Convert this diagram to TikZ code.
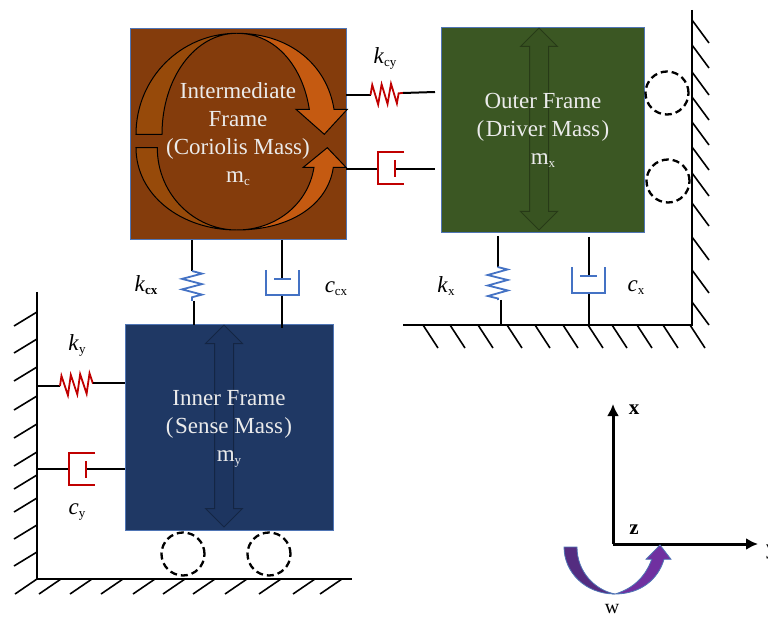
\documentclass[tikz,border=0pt]{standalone}
\usepackage{fontspec}
\setmainfont{Liberation Serif}
\usetikzlibrary{arrows.meta,decorations.pathmorphing,shapes.arrows}
\definecolor{coriolis}{HTML}{843C0C}
\definecolor{coriolisback}{HTML}{974A0A}
\definecolor{coriolisfront}{HTML}{C55A11}
\definecolor{driver}{HTML}{3B5723}
\definecolor{sense}{HTML}{1F3864}
\definecolor{edgeblue}{HTML}{4F75B5}
\definecolor{springblue}{HTML}{4472C4}
\definecolor{springred}{HTML}{C00000}
\definecolor{omegaback}{HTML}{542C80}
\definecolor{omegafront}{HTML}{7030A0}
\newcommand{\lowsub}[1]{\raisebox{-3pt}{\fontsize{13}{13}\selectfont #1}}
\begin{document}
\begin{tikzpicture}[
  x=1pt, y=-1pt,
  frame/.style={rectangle, draw=edgeblue, line width=1pt, inner sep=0pt},
  frametext/.style={align=center, text=white!92!black, font=\fontsize{23}{28}\selectfont},
  label/.style={font=\fontsize{23}{26}\selectfont},
  wire/.style={line width=2pt},
  ground/.style={line width=2.2pt},
  hatch/.style={line width=1.6pt},
  redspring/.style={springred, line width=1.8pt, decorate, decoration={zigzag, segment length=9.4, amplitude=10}},
  bluespring/.style={springblue, line width=1.8pt, decorate, decoration={zigzag, segment length=10.5, amplitude=10}},
  reddamper/.style={springred, line width=2pt},
  bluedamper/.style={springblue, line width=2pt},
  roller/.style={circle, draw, line width=2.3pt, dash pattern=on 7pt off 4pt, minimum size=43pt, inner sep=0pt},
  travel/.style={double arrow, double arrow head extend=9pt, minimum width=36pt, inner ysep=9pt, inner xsep=0pt, rotate=90, fill=black, fill opacity=0.04, draw=black, draw opacity=0.3, line width=1pt},
  spin/.style={draw=black, line width=1pt, line join=miter},
  omega/.style={draw=edgeblue, line width=0.8pt},
  axis/.style={-{Latex[length=12pt, width=12pt]}, line width=3pt}
]
  \useasboundingbox (0,0) rectangle (768,617);

  % Masses
  \node[frame, fill=coriolis, minimum width=216pt, minimum height=211pt] (intermediate) at (238,134.5) {};
  \node[frame, fill=driver, minimum width=203pt, minimum height=205pt] (outer) at (543,130.5) {};
  \node[frame, fill=sense, minimum width=208pt, minimum height=205pt] (inner) at (229,427.5) {};

  % Rotation arrows of the intermediate frame
  \draw[spin, fill=coriolisback] (136,134.3) .. controls (136,78) and (181,33.3) .. (236.7,33.3)
    .. controls (195,33.3) and (162,78) .. (162,134.3) -- cycle;
  \draw[spin, fill=coriolisfront] (236.7,33.3) .. controls (290,33.3) and (327,65) .. (334,109.3)
    -- (347.3,109.3) -- (324.3,134.3) -- (296,109.3) -- (309.3,109.3)
    .. controls (303,68) and (277,33.3) .. (236.7,33.3) -- cycle;
  \draw[spin, fill=coriolisback] (136,147.7) .. controls (136,195) and (181,230) .. (236.7,230)
    .. controls (195,230) and (157.3,195) .. (157.3,147.7) -- cycle;
  \draw[spin, fill=coriolisfront] (236.7,230) .. controls (290,230) and (328,205) .. (333.3,167.3)
    -- (346,167.3) -- (327.3,147.7) -- (303.3,167.3) -- (314,167.3)
    .. controls (308,205) and (275,230) .. (236.7,230) -- cycle;

  % Travel arrows
  \node[travel, minimum height=202pt] (outerTravel) at (539,129) {};
  \node[travel, minimum height=202pt] (innerTravel) at (224,426) {};

  % Frame texts
  \node[frametext] (intermediateText) at (intermediate.center) {Intermediate\\Frame\\(Coriolis Mass)\\m\lowsub{c}};
  \node[frametext] (outerText) at (543,130.5) {Outer Frame\\(\kern1.5pt Driver Mass\kern1.5pt)\\m\lowsub{x}};
  \node[frametext] (innerText) at (229,429) {Inner Frame\\(\kern1.5pt Sense Mass\kern1.5pt)\\m\lowsub{y}};

  % Rollers
  \node[roller] (rollerA) at (667,93) {};
  \node[roller] (rollerB) at (668,181) {};
  \node[roller] (rollerC) at (183,554) {};
  \node[roller] (rollerD) at (269,554) {};

  % Outer ground
  \coordinate (outerTop) at (692,10);
  \coordinate (outerCorner) at (692,325);
  \coordinate (outerEnd) at (403,325);
  \draw[ground] (outerTop) -- (outerCorner) -- (outerEnd);
  \foreach \y in {20,45,72,97,122,147,173,203,237,270,302}
    \draw[hatch] (692,\y) -- ++(17,23);
  \foreach \x in {423,450,478,507,535,563,588,612,637,663,690}
    \draw[hatch] (\x,325) -- ++(15,23);

  % Inner ground
  \coordinate (innerTop) at (37,292);
  \coordinate (innerCorner) at (37,579);
  \coordinate (innerEnd) at (352,579);
  \draw[ground] (innerTop) -- (innerCorner) -- (innerEnd);
  \foreach \y in {312,339,367,396,424,452,475,498,525,552}
    \draw[hatch] (37,\y) -- ++(-23,14);
  \foreach \x in {37,61,92,123,155,185,215,247,281,315,342}
    \draw[hatch] (\x,579) -- ++(-22,15);

  % Spring k_cy
  \coordinate (kcyA) at (346,95);
  \coordinate (kcyB) at (370.5,95);
  \coordinate (kcyC) at (403,93);
  \coordinate (kcyD) at (435,92);
  \draw[wire] (kcyA) -- (kcyB);
  \draw[redspring] (kcyB) -- (kcyC);
  \draw[wire] (kcyC) -- (kcyD);
  \node[label] (kcyLabel) at (385,58) {\textit{k}\lowsub{cy}};

  % Damper c_cy
  \coordinate (ccyA) at (346,168.7);
  \coordinate (ccyB) at (378,168.7);
  \coordinate (ccyC) at (395,168.7);
  \coordinate (ccyD) at (435,168.7);
  \draw[wire] (ccyA) -- (ccyB);
  \draw[wire] (ccyC) -- (ccyD);
  \draw[reddamper] (404,152) -| (ccyB) |- (404,184);
  \draw[reddamper] (395,160) -- (395,177);

  % Spring k_x
  \coordinate (kxA) at (497.5,236);
  \coordinate (kxB) at (497.5,267);
  \coordinate (kxC) at (498,300);
  \coordinate (kxD) at (501,325);
  \draw[wire] (kxA) -- (kxB);
  \draw[bluespring] (kxB) -- (kxC);
  \draw[wire] (501,300) -- (kxD);
  \node[label] (kxLabel) at (446,286) {\textit{k}\lowsub{x}};

  % Damper c_x
  \coordinate (cxA) at (589,237);
  \coordinate (cxB) at (589,276);
  \coordinate (cxC) at (589,293);
  \coordinate (cxD) at (589,325);
  \draw[wire] (cxA) -- (cxB);
  \draw[wire] (cxC) -- (cxD);
  \draw[bluedamper] (572,267) |- (cxC) -| (604.5,267);
  \draw[bluedamper] (580,276) -- (597,276);
  \node[label] (cxLabel) at (636,288) {\textit{c}\lowsub{x}};

  % Spring k_cx
  \coordinate (kcxA) at (192,240);
  \coordinate (kcxB) at (192,271);
  \coordinate (kcxC) at (192,301);
  \coordinate (kcxD) at (194,325);
  \draw[wire] (kcxA) -- (kcxB);
  \draw[bluespring] (kcxB) -- (kcxC);
  \draw[wire] (194,301) -- (kcxD);
  \node[label] (kcxLabel) at (146,285) {\textit{k}\lowsub{\textbf{cx}}};

  % Damper c_cx
  \coordinate (ccxA) at (282,240);
  \coordinate (ccxB) at (282,279);
  \coordinate (ccxC) at (282,295);
  \coordinate (ccxD) at (282,328);
  \draw[wire] (ccxA) -- (ccxB);
  \draw[wire] (ccxC) -- (ccxD);
  \draw[bluedamper] (266,270) |- (ccxC) -| (299,270);
  \draw[bluedamper] (274,279) -- (291,279);
  \node[label] (ccxLabel) at (336,289) {\textit{c}\lowsub{cx}};

  % Spring k_y
  \coordinate (kyA) at (37,386);
  \coordinate (kyB) at (60,386);
  \coordinate (kyC) at (93,383);
  \coordinate (kyD) at (125,383);
  \draw[wire] (kyA) -- (kyB);
  \draw[redspring] (kyB) -- (kyC);
  \draw[wire] (kyC) -- (kyD);
  \node[label] (kyLabel) at (77,345) {\textit{k}\lowsub{y}};

  % Damper c_y
  \coordinate (cyA) at (36,469);
  \coordinate (cyB) at (69,469);
  \coordinate (cyC) at (86,469);
  \coordinate (cyD) at (125,469);
  \draw[wire] (cyA) -- (cyB);
  \draw[wire] (cyC) -- (cyD);
  \draw[reddamper] (95,453) -| (cyB) |- (95,485);
  \draw[reddamper] (86,461) -- (86,478);
  \node[label] (cyLabel) at (77,512) {\textit{c}\lowsub{y}};

  % Axes
  \coordinate (origin) at (613,544);
  \coordinate (axisX) at (613,404);
  \coordinate (axisY) at (758,544);
  \draw[axis] (origin) -- (axisX);
  \draw[axis] (origin) -- (axisY);
  \node[label, font=\fontsize{21}{24}\selectfont\bfseries] (xLabel) at (634,410) {x};
  \node[label, font=\fontsize{21}{24}\selectfont\bfseries] (zLabel) at (634,530) {z};
  \node[label, font=\fontsize{21}{24}\selectfont\bfseries, anchor=west, inner xsep=0pt] (yLabel) at (766,552) {y};

  % Rotation arrow w
  \draw[omega, fill=omegaback] (564,547) .. controls (564,572) and (585,594) .. (615,594)
    .. controls (595,590) and (577,572) .. (577,547) -- cycle;
  \draw[omega, fill=omegafront] (615,594) .. controls (640,594) and (658,580) .. (664,559.3)
    -- (671,559.3) -- (660,545) -- (646,559.3) -- (651.7,559.3)
    .. controls (646,575) and (635,588) .. (615,594) -- cycle;
  \node[label, font=\fontsize{20}{24}\selectfont] (omegaLabel) at (612,609) {w};
\end{tikzpicture}
\end{document}
